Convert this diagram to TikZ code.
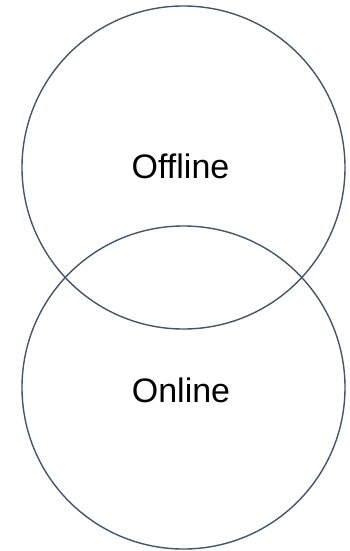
\documentclass[tikz,border=0pt]{standalone}
\usepackage{fontspec}
\setmainfont{Liberation Sans}
\definecolor{ring}{HTML}{44546A}
\tikzset{
  ringshape/.style={circle, draw=ring, line width=1.4pt, minimum size=323pt, inner sep=0pt},
  label text/.style={font=\fontsize{34}{40}\selectfont, text=black, inner sep=0pt}
}
\begin{document}
\begin{tikzpicture}[x=1pt,y=-1pt]
\useasboundingbox (0,0) rectangle (349,551);
\node[ringshape] (offc) at (183.5,167.5) {};
\node[ringshape] (onc) at (183.5,387.5) {};
\node[label text] (offt) at (180.5,166.5) {Offline};
\node[label text] (ont) at (181,390.5) {Online};
\end{tikzpicture}
\end{document}
